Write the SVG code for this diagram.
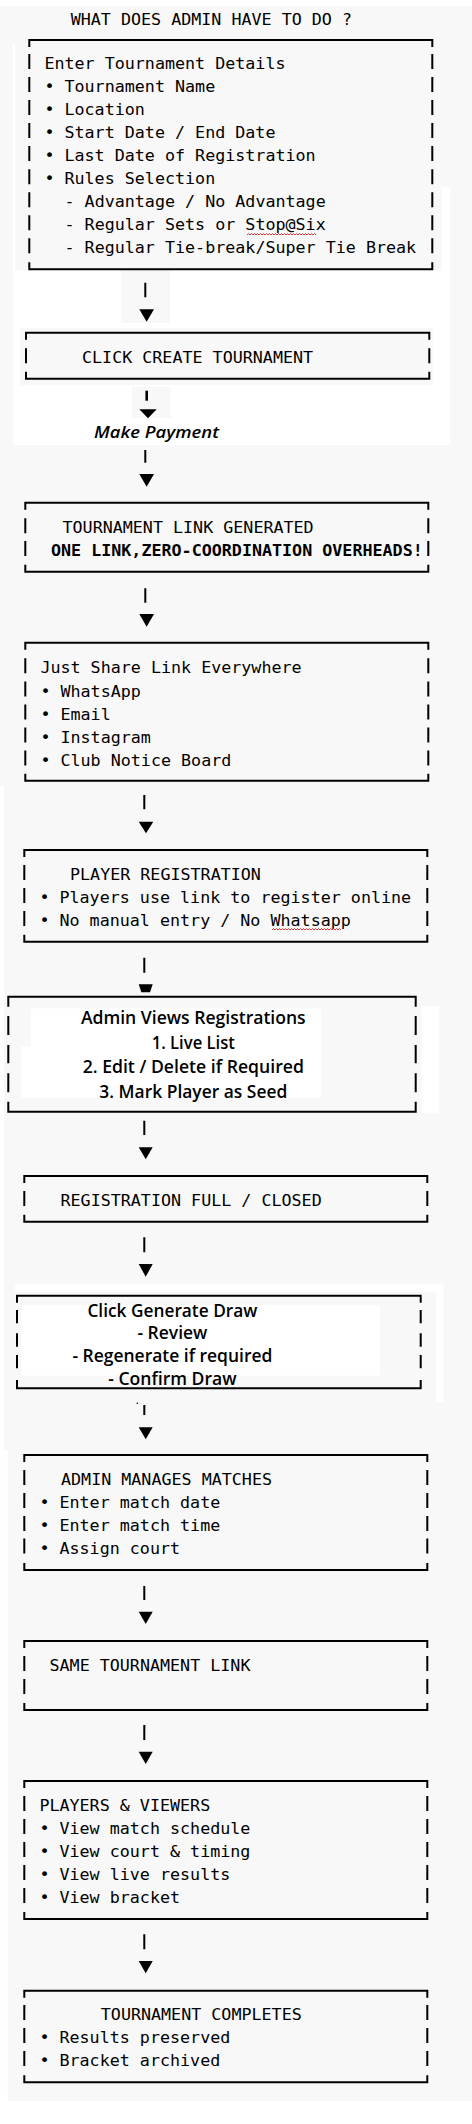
<svg xmlns="http://www.w3.org/2000/svg" width="472" height="2124" viewBox="0 0 472 2124">
<style>
.m{font-family:"DejaVu Sans Mono","Liberation Mono",monospace;font-size:16.7px;fill:#000}
.mb{font-weight:bold}
.s{font-family:"Open Sans","Noto Sans",sans-serif;font-size:18px;font-weight:600;fill:#000;text-anchor:middle}
.it{font-family:"Open Sans","Noto Sans",sans-serif;font-size:17px;font-weight:600;font-style:italic;fill:#000}
.bd{fill:none;stroke:#000;stroke-width:2}
.bar{fill:none;stroke:#000;stroke-width:2}
.tri{fill:#000}
.sq{fill:none;stroke:#e02020;stroke-width:0.9}
.w{fill:#fff}
.g{fill:#f8f8f8}
</style>
<g id="background">
<rect x="0" y="0" width="472" height="2124" class="g"/>
<rect x="0" y="0" width="472" height="6" class="w"/>
<rect x="12.7" y="44" width="2.3" height="226" class="w"/>
<rect x="441.7" y="187" width="8.3" height="83" class="w"/>
<rect x="13" y="270" width="437" height="175" class="w"/>
<rect x="121" y="270" width="49" height="53" class="g"/>
<rect x="20" y="328" width="413" height="57" class="g"/>
<rect x="132" y="387" width="39" height="31" class="g"/>
<rect x="0" y="786" width="4" height="664" class="w"/>
<rect x="0" y="1450" width="7.7" height="651" class="w"/>
<rect x="0" y="2101" width="472" height="23" class="w"/>
<rect x="31" y="1008.3" width="290" height="89" class="w"/>
<rect x="21" y="1046.7" width="10" height="50.6" class="w"/>
<rect x="421.7" y="1006" width="17.3" height="106.7" class="w"/>
<rect x="15" y="1284" width="428.3" height="7.7" class="w"/>
<rect x="436" y="1284" width="7.3" height="117.7" class="w"/>
<rect x="21.7" y="1305" width="358.3" height="70.7" class="w"/>
</g>
<g id="title">
<text class="m" x="70.7" y="25">WHAT DOES ADMIN HAVE TO DO ?</text>
</g>
<g id="node-details">
<path class="bd" d="M29.3 47V40H432.3V47M29.3 262.3V269.3H432.3V262.3M29.3 54V69M432.3 54V69M29.3 77V92M432.3 77V92M29.3 100V115M432.3 100V115M29.3 123V138M432.3 123V138M29.3 146V161M432.3 146V161M29.3 169.3V184.3M432.3 169.3V184.3M29.3 192.3V207.3M432.3 192.3V207.3M29.3 215.3V230.3M432.3 215.3V230.3M29.3 238.3V253.3M432.3 238.3V253.3"/>
<text class="m" x="44.4" y="69">Enter Tournament Details</text>
<text class="m" x="44.4" y="92">• Tournament Name</text>
<text class="m" x="44.4" y="115">• Location</text>
<text class="m" x="44.4" y="138">• Start Date / End Date</text>
<text class="m" x="44.4" y="161">• Last Date of Registration</text>
<text class="m" x="44.4" y="184.3">• Rules Selection</text>
<text class="m" x="64.5" y="207.3">- Advantage / No Advantage</text>
<text class="m" x="64.5" y="230.3">- Regular Sets or Stop@Six</text>
<text class="m" x="64.5" y="253.3">- Regular Tie-break/Super Tie Break</text>
<path class="sq" d="M247 235l1.5-1.5 1.5 1.5 1.5-1.5 1.5 1.5 1.5-1.5 1.5 1.5 1.5-1.5 1.5 1.5 1.5-1.5 1.5 1.5 1.5-1.5 1.5 1.5 1.5-1.5 1.5 1.5 1.5-1.5 1.5 1.5 1.5-1.5 1.5 1.5 1.5-1.5 1.5 1.5 1.5-1.5 1.5 1.5 1.5-1.5 1.5 1.5 1.5-1.5 1.5 1.5 1.5-1.5 1.5 1.5 1.5-1.5 1.5 1.5 1.5-1.5 1.5 1.5 1.5-1.5 1.5 1.5 1.5-1.5 1.5 1.5 1.5-1.5 1.5 1.5 1.5-1.5 1.5 1.5 1.5-1.5 1.5 1.5 1.5-1.5 1.5 1.5 1.5-1.5 1.5 1.5"/>
</g>
<g id="node-create">
<path class="bd" d="M26 339.7V332.7H429.3V339.7M26 371.7V378.7H429.3V371.7M26 348.3V363.3M429.3 348.3V363.3"/>
<text class="m" x="82" y="363.3">CLICK CREATE TOURNAMENT</text>
</g>
<g id="label-payment">
<text class="it" x="94" y="438.3" textLength="125" lengthAdjust="spacingAndGlyphs">Make Payment</text>
</g>
<g id="node-link">
<path class="bd" d="M25.3 509.7V502.7H428.3V509.7M25.3 564.7V571.7H428.3V564.7M25.3 518.3V533.3M428.3 518.3V533.3M25.3 541V556M428.3 541V556"/>
<text class="m" x="62.5" y="533.3">TOURNAMENT LINK GENERATED</text>
<text class="m mb" x="51" y="556">ONE LINK,ZERO-COORDINATION OVERHEADS!</text>
</g>
<g id="node-share">
<path class="bd" d="M25.3 649.7V642.7H428.3V649.7M25.3 773.7V780.7H428.3V773.7M25.3 658.3V673.3M428.3 658.3V673.3M25.3 681.5V696.5M428.3 681.5V696.5M25.3 704.5V719.5M428.3 704.5V719.5M25.3 727.5V742.5M428.3 727.5V742.5M25.3 750.5V765.5M428.3 750.5V765.5"/>
<text class="m" x="40.4" y="673.3">Just Share Link Everywhere</text>
<text class="m" x="40.4" y="696.5">• WhatsApp</text>
<text class="m" x="40.4" y="719.5">• Email</text>
<text class="m" x="40.4" y="742.5">• Instagram</text>
<text class="m" x="40.4" y="765.5">• Club Notice Board</text>
</g>
<g id="node-player-reg">
<path class="bd" d="M24.3 857V850H427.3V857M24.3 934.7V941.7H427.3V934.7M24.3 865V880M427.3 865V880M24.3 888V903M427.3 888V903M24.3 911V926M427.3 911V926"/>
<text class="m" x="70" y="880">PLAYER REGISTRATION</text>
<text class="m" x="39.4" y="903">• Players use link to register online</text>
<text class="m" x="39.4" y="926">• No manual entry / No Whatsapp</text>
<path class="sq" d="M272 930l1.5-1.5 1.5 1.5 1.5-1.5 1.5 1.5 1.5-1.5 1.5 1.5 1.5-1.5 1.5 1.5 1.5-1.5 1.5 1.5 1.5-1.5 1.5 1.5 1.5-1.5 1.5 1.5 1.5-1.5 1.5 1.5 1.5-1.5 1.5 1.5 1.5-1.5 1.5 1.5 1.5-1.5 1.5 1.5 1.5-1.5 1.5 1.5 1.5-1.5 1.5 1.5 1.5-1.5 1.5 1.5 1.5-1.5 1.5 1.5 1.5-1.5 1.5 1.5 1.5-1.5 1.5 1.5 1.5-1.5 1.5 1.5 1.5-1.5 1.5 1.5 1.5-1.5 1.5 1.5 1.5-1.5 1.5 1.5 1.5-1.5 1.5 1.5 1.5-1.5 1.5 1.5"/>
</g>
<g id="node-admin-views">
<path class="bd" d="M8.3 1006.7V996.7H415.7V1006.7M8.3 1101.7V1111.7H415.7V1101.7M8.3 1016V1035M415.7 1016V1035M8.3 1045V1063.3M415.7 1045V1063.3M8.3 1073.3V1092.3M415.7 1073.3V1092.3"/>
<text class="s" x="193.3" y="1024.3" textLength="224.7" lengthAdjust="spacingAndGlyphs">Admin Views Registrations</text>
<text class="s" x="193.3" y="1049" textLength="83.3" lengthAdjust="spacingAndGlyphs">1. Live List</text>
<text class="s" x="193.3" y="1073.3" textLength="221.3" lengthAdjust="spacingAndGlyphs">2. Edit / Delete if Required</text>
<text class="s" x="193.3" y="1098.3" textLength="188" lengthAdjust="spacingAndGlyphs">3. Mark Player as Seed</text>
</g>
<g id="node-reg-closed">
<path class="bd" d="M24.3 1183V1176H427.3V1183M24.3 1214.7V1221.7H427.3V1214.7M24.3 1191V1206M427.3 1191V1206"/>
<text class="m" x="60.5" y="1206">REGISTRATION FULL / CLOSED</text>
</g>
<g id="node-draw">
<path class="bd" d="M17 1302.7V1295.7H420.7V1302.7M17 1380V1388.3H420.7V1380M17 1310V1323.3M420.7 1310V1323.3M17 1333.3V1346.7M420.7 1333.3V1346.7M17 1355V1368.3M420.7 1355V1368.3"/>
<text class="s" x="172.4" y="1316.7" textLength="170" lengthAdjust="spacingAndGlyphs">Click Generate Draw</text>
<text class="s" x="172.4" y="1339" textLength="70" lengthAdjust="spacingAndGlyphs">- Review</text>
<text class="s" x="172.4" y="1361.7" textLength="200" lengthAdjust="spacingAndGlyphs">- Regenerate if required</text>
<text class="s" x="172.4" y="1385" textLength="128.4" lengthAdjust="spacingAndGlyphs">- Confirm Draw</text>
</g>
<g id="node-manage">
<path class="bd" d="M24.3 1462V1455H427.3V1462M24.3 1563V1570H427.3V1563M24.3 1470V1485M427.3 1470V1485M24.3 1493V1508M427.3 1493V1508M24.3 1516V1531M427.3 1516V1531M24.3 1538.5V1553.5M427.3 1538.5V1553.5"/>
<text class="m" x="61" y="1485">ADMIN MANAGES MATCHES</text>
<text class="m" x="39.4" y="1508">• Enter match date</text>
<text class="m" x="39.4" y="1531">• Enter match time</text>
<text class="m" x="39.4" y="1553.5">• Assign court</text>
</g>
<g id="node-same-link">
<path class="bd" d="M24.3 1648V1641H427.3V1648M24.3 1703V1710H427.3V1703M24.3 1656V1671M427.3 1656V1671M24.3 1679V1694M427.3 1679V1694"/>
<text class="m" x="49.5" y="1671">SAME TOURNAMENT LINK</text>
</g>
<g id="node-viewers">
<path class="bd" d="M24.3 1788V1781H427.3V1788M24.3 1912V1919H427.3V1912M24.3 1796V1811M427.3 1796V1811M24.3 1819V1834M427.3 1819V1834M24.3 1842V1857M427.3 1842V1857M24.3 1865V1880M427.3 1865V1880M24.3 1888V1903M427.3 1888V1903"/>
<text class="m" x="39.4" y="1811">PLAYERS &amp; VIEWERS</text>
<text class="m" x="39.4" y="1834">• View match schedule</text>
<text class="m" x="39.4" y="1857">• View court &amp; timing</text>
<text class="m" x="39.4" y="1880">• View live results</text>
<text class="m" x="39.4" y="1903">• View bracket</text>
</g>
<g id="node-complete">
<path class="bd" d="M24.3 1997.7V1990.7H427.3V1997.7M24.3 2075.3V2082.3H427.3V2075.3M24.3 2005V2020M427.3 2005V2020M24.3 2028V2043M427.3 2028V2043M24.3 2051V2066M427.3 2051V2066"/>
<text class="m" x="100.8" y="2020">TOURNAMENT COMPLETES</text>
<text class="m" x="39.4" y="2043">• Results preserved</text>
<text class="m" x="39.4" y="2066">• Bracket archived</text>
</g>
<g id="connectors">
<path class="bar" d="M145.3 282.7V297.3M145.3 450V462.7M145.3 588.3V602.7M144.3 795V809.3M144.3 957.7V972.7M144.3 1120.7V1135M144.3 1237.3V1252.3M144.3 1405V1415M144.3 1586V1600M144.3 1725V1740M144.3 1934.3V1949.3"/>
<path class="bar" style="stroke-width:2.6" d="M146.7 390.7V400.7"/>
<polygon class="tri" points="139.3,309.3 154,309.3 146.65,321.7"/>
<polygon class="tri" points="139.3,409.3 156.7,409.3 148,418.3"/>
<polygon class="tri" points="139.3,474 154,474 146.65,486.7"/>
<polygon class="tri" points="139.3,614 154,614 146.65,626.7"/>
<polygon class="tri" points="138.7,821.7 153.3,821.7 146,833.3"/>
<polygon class="tri" points="138.7,984.3 152.7,984.3 150,992.3 141.4,992.3"/>
<polygon class="tri" points="138.7,1147.3 152.7,1147.3 145.7,1159.3"/>
<polygon class="tri" points="138.7,1264 152.7,1264 145.7,1276.7"/>
<polygon class="tri" points="138.7,1427.3 152.7,1427.3 145.7,1439.3"/>
<polygon class="tri" points="138.7,1611.7 152.7,1611.7 145.7,1624"/>
<polygon class="tri" points="138.7,1751.7 152.7,1751.7 145.7,1764"/>
<polygon class="tri" points="138.7,1961 152.7,1961 145.7,1973.3"/>
<circle cx="137.3" cy="1403.3" r="0.8" fill="#000"/>
</g>
</svg>
